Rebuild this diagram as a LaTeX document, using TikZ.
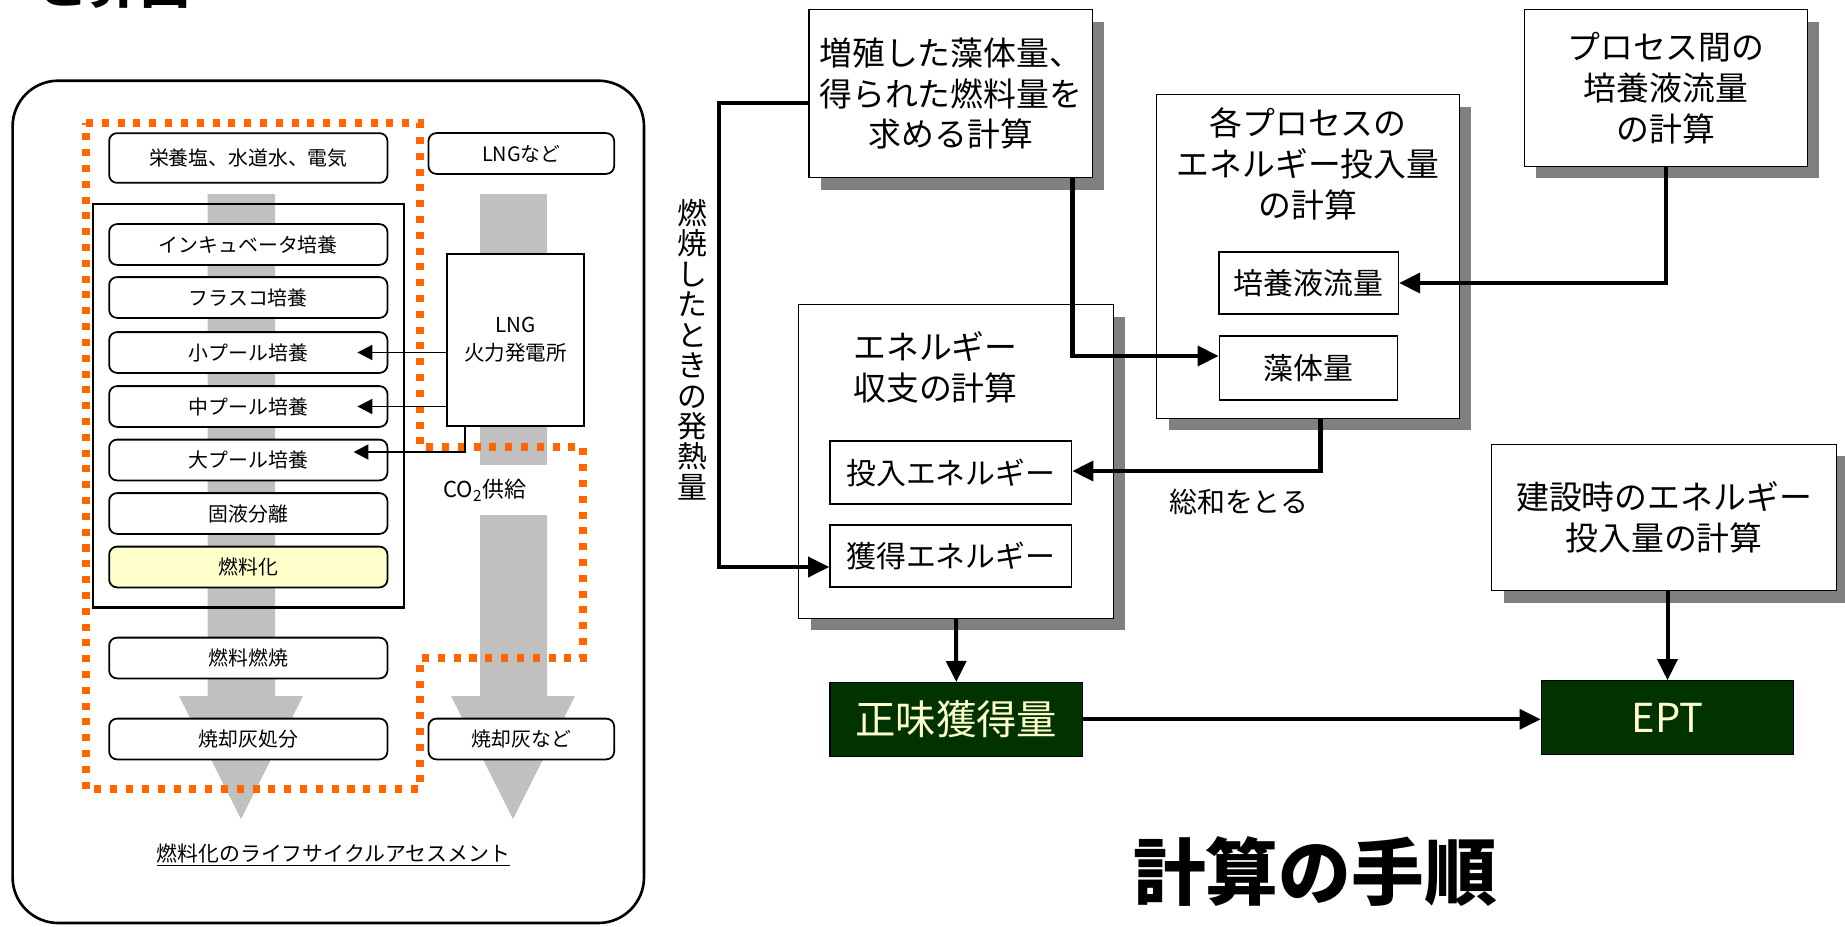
\documentclass[tikz,border=0pt]{standalone}
\usepackage{fontspec}
\setmainfont{Noto Sans CJK JP}
\usetikzlibrary{arrows.meta,shadows}
\definecolor{lcaorange}{HTML}{FF6600}
\definecolor{flowgray}{HTML}{C0C0C0}
\definecolor{shadowgray}{HTML}{808080}
\definecolor{fuelyellow}{HTML}{FFFFCC}
\definecolor{eptgreen}{HTML}{003300}
\tikzset{
  stage/.style={draw,line width=1pt,rounded corners=4.5pt,fill=white,inner sep=0pt,
    minimum width=158.4pt,minimum height=23.2pt,font=\fontsize{11.3}{13}\selectfont},
  plant/.style={draw,line width=1.1pt,fill=white,inner sep=0pt,align=center,
    minimum width=77.7pt,minimum height=97.5pt,font=\fontsize{11.7}{15.9}\selectfont},
  calctext/.style={align=center,font=\fontsize{18.7}{23.2}\selectfont},
  calc/.style={draw,line width=0.8pt,fill=white,inner sep=0pt,calctext,
    drop shadow={shadow xshift=6.8pt,shadow yshift=-6.8pt,fill=shadowgray,opacity=1}},
  part/.style={draw,line width=0.8pt,fill=white,inner sep=0pt,font=\fontsize{17}{20}\selectfont},
  result/.style={draw,line width=0.6pt,fill=eptgreen,text=fuelyellow,inner sep=0pt,
    minimum width=143.8pt,minimum height=41.8pt,font=\fontsize{23}{26}\selectfont},
  flow/.style={line width=2.3pt,-{Triangle[length=12pt,width=11.3pt]}},
  feed/.style={line width=1.1pt,-{Triangle[length=8.5pt,width=8.5pt]}},
}
\begin{document}
\begin{tikzpicture}[x=0.02cm,y=-0.02cm]
\useasboundingbox (0,0) rectangle (1845,926);

% life cycle assessment panel
\draw[line width=1.5pt,rounded corners=26pt] (12.6,80.7) rectangle (644,923);
\fill[flowgray] (207.5,194) -- (275,194) -- (275,696) -- (303,696) -- (241,819) -- (179,696) -- (207.5,696) -- cycle;
\fill[flowgray] (480,194) rectangle (547,465);
\fill[flowgray] (480,515) -- (547,515) -- (547,696) -- (575,696) -- (513,819) -- (451,696) -- (480,696) -- cycle;
\draw[lcaorange,line width=4pt,dash pattern=on 4pt off 5pt]
  (86,123) -- (420,123) -- (420,447) -- (583,447) -- (583,658) -- (420,658) -- (420,789) -- (86,789) -- cycle;
\draw[line width=1.7pt] (93,204) rectangle (404,607);

\path (248.3,158) node[stage,minimum height=28.3pt] (nutri) {栄養塩、水道水、電気}
      (521.3,153.5) node[stage,minimum width=105.7pt] (lngEtc) {LNGなど}
      (248.3,244.5) node[stage] (incub) {インキュベータ培養}
      (248.3,297.5) node[stage] (flask) {フラスコ培養}
      (248.3,352.5) node[stage] (smallPool) {小プール培養}
      (248.3,406.5) node[stage] (midPool) {中プール培養}
      (248.3,460) node[stage] (largePool) {大プール培養}
      (248.3,513.5) node[stage] (separate) {固液分離}
      (248.3,567) node[stage,fill=fuelyellow] (fuel) {燃料化}
      (248.3,658) node[stage] (combust) {燃料燃焼}
      (248.3,739) node[stage] (ashOut) {焼却灰処分}
      (521.3,739) node[stage,minimum width=105.7pt] (ashEtc) {焼却灰など}
      (515.5,340) node[plant] (lng) {LNG\\火力発電所}
      (485,490) node[font=\fontsize{12.5}{14}\selectfont] (co2) {CO\textsubscript{2}供給}
      (333.5,855) node[font=\fontsize{11.9}{14}\selectfont] (caption) {\underline{燃料化のライフサイクルアセスメント}}
      (114,3.5) node[anchor=base,font=\fontsize{29.5}{34}\bfseries\selectfont] (topTitle) {と算出}
      ;

\coordinate (co2Turn) at (465,452);
\coordinate (largeTip) at ([xshift=-19.8pt]largePool.east);
\draw[feed] (lng.west |- smallPool.east) -- ([xshift=-17.6pt]smallPool.east);
\draw[feed] (lng.west |- midPool.east) -- ([xshift=-17.6pt]midPool.east);
\draw[feed] (lng.south -| co2Turn) -- (co2Turn) -- (largeTip |- co2Turn);

% calculation steps
\path (950.8,93.7) node[calc,minimum width=161.3pt,minimum height=95.6pt] (calcA) {増殖した藻体量、\\得られた燃料量を\\求める計算}
      (956,461.5) node[calc,minimum width=179.1pt,minimum height=178.6pt] (calcB) {}
      (853,367.5) node[calctext,anchor=west,align=left,inner sep=0pt] (calcBtitle) {エネルギー\\収支の計算}
      (950.8,472.5) node[part,minimum width=137.5pt,minimum height=35.7pt] (inputE) {投入エネルギー}
      (950.8,556) node[part,minimum width=137.5pt,minimum height=35.1pt] (gainE) {獲得エネルギー}
      (1308,256.5) node[calc,minimum width=172.3pt,minimum height=184.2pt] (calcC) {}
      (1308,164) node[calctext] (calcCtitle) {各プロセスの\\エネルギー投入量\\の計算}
      (1308.6,283) node[part,minimum width=102.2pt,minimum height=35.1pt] (medium) {培養液流量}
      (1308.5,368) node[part,minimum width=101.5pt,minimum height=36.3pt] (algae) {藻体量}
      (1665.9,88) node[calc,minimum width=161.2pt,minimum height=89.2pt] (calcD) {プロセス間の\\培養液流量\\の計算}
      (1664,517.5) node[calc,minimum width=196.1pt,minimum height=83.3pt] (calcE) {建設時のエネルギー\\投入量の計算}
      (956.3,719.3) node[result] (net) {正味獲得量}
      (1667.5,717.5) node[result,font=\fontsize{22.7}{26}\selectfont] (ept) {EPT}
      (1239,502) node[font=\fontsize{15.9}{18}\selectfont] (sumLbl) {総和をとる}
      (692.5,349.5) node[align=center,font=\fontsize{17}{17.35}\selectfont] (heatLbl) {燃\\焼\\し\\た\\と\\き\\の\\発\\熱\\量}
      (1315,872) node[font=\fontsize{41.4}{48}\bfseries\selectfont] (procTitle) {計算の手順}
      ;

\coordinate (heatTop) at (719,103);
\coordinate (heatBot) at (719,567);
\coordinate (algaeTurn) at (1072.5,356);
\coordinate (sumTurn) at (1320.5,471);
\draw[flow] (calcA.west |- heatTop) -- (heatTop) -- (heatBot) -- (gainE.west |- heatBot);
\draw[flow] (calcA.south -| algaeTurn) -- (algaeTurn) -- (algae.west |- algaeTurn);
\draw[flow] (calcD.south) |- (medium.east);
\draw[flow] (calcC.south -| sumTurn) -- (sumTurn) -- (inputE.east |- sumTurn);
\draw[flow] (calcB.south) -- (net.north);
\draw[flow] (net.east) -- (net.east -| ept.west);
\draw[flow] (calcE.south -| ept.north) -- (ept.north);
\end{tikzpicture}
\end{document}
